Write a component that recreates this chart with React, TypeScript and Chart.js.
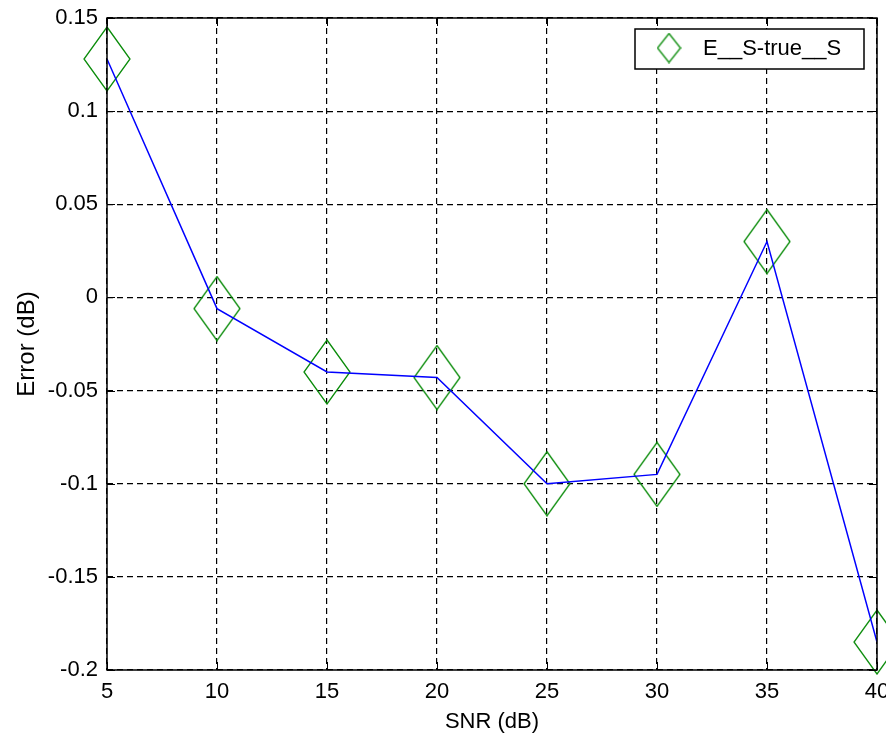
import React, { useEffect, useRef } from "react";
import { Chart, registerables } from "chart.js";

Chart.register(...registerables);

const snr: number[] = [5, 10, 15, 20, 25, 30, 35, 40];
const errorDb: number[] = [0.128, -0.006, -0.04, -0.043, -0.1, -0.095, 0.03, -0.185];
const xTicks: number[] = [5, 10, 15, 20, 25, 30, 35, 40];
const yTicks: number[] = [-0.2, -0.15, -0.1, -0.05, 0, 0.05, 0.1, 0.15];
const legendLabel = "E__S-true__S";
const xTitle = "SNR (dB)";
const yTitle = "Error (dB)";

const FONT = "'Liberation Sans', Arial, sans-serif";
const GREEN = "#0a8c0a";

function makeDiamond(w: number, h: number, lw: number): HTMLCanvasElement {
  const c = document.createElement("canvas");
  c.width = w;
  c.height = h;
  const ctx = c.getContext("2d")!;
  ctx.strokeStyle = GREEN;
  ctx.lineWidth = lw;
  ctx.beginPath();
  ctx.moveTo(w / 2, 1);
  ctx.lineTo(w - 1, h / 2);
  ctx.lineTo(w / 2, h - 1);
  ctx.lineTo(1, h / 2);
  ctx.closePath();
  ctx.stroke();
  return c;
}

export default function App() {
  const ref = useRef<HTMLCanvasElement | null>(null);

  useEffect(() => {
    if (!ref.current) return;
    const bigDiamond = makeDiamond(48, 66, 1.3);
    const smallDiamond = makeDiamond(25, 31, 1.3);

    const framePlugin = {
      id: "frame",
      afterDraw(chart: any) {
        const { ctx, chartArea: a, scales } = chart;
        ctx.save();
        ctx.strokeStyle = "#000";
        ctx.lineWidth = 1;
        ctx.setLineDash([]);
        const tl = 8;
        ctx.beginPath();
        for (const v of xTicks) {
          const px = Math.round(scales.x.getPixelForValue(v)) + 0.5;
          ctx.moveTo(px, a.bottom);
          ctx.lineTo(px, a.bottom - tl);
          ctx.moveTo(px, a.top);
          ctx.lineTo(px, a.top + tl);
        }
        for (const v of yTicks) {
          const py = Math.round(scales.y.getPixelForValue(v)) + 0.5;
          ctx.moveTo(a.left, py);
          ctx.lineTo(a.left + tl, py);
          ctx.moveTo(a.right, py);
          ctx.lineTo(a.right - tl, py);
        }
        ctx.stroke();
        ctx.lineWidth = 1.5;
        ctx.strokeRect(a.left, a.top, a.right - a.left, a.bottom - a.top);

        // legend (canvas coords are shifted by +3 relative to the page)
        const lx = 635, ly = 32, lw = 229, lh = 40;
        ctx.fillStyle = "#fff";
        ctx.fillRect(lx, ly, lw, lh);
        ctx.lineWidth = 1.5;
        ctx.strokeStyle = "#000";
        ctx.strokeRect(lx, ly, lw, lh);
        ctx.drawImage(smallDiamond, 669 - smallDiamond.width / 2, 51 - smallDiamond.height / 2);
        ctx.fillStyle = "#000";
        ctx.font = `22px ${FONT}`;
        ctx.textBaseline = "middle";
        ctx.textAlign = "left";
        ctx.fillText(legendLabel, 703, 52);
        ctx.restore();
      },
    };

    const chart = new Chart(ref.current, {
      type: "line",
      data: {
        datasets: [
          {
            label: "line",
            data: snr.map((x, i) => ({ x, y: errorDb[i] })),
            borderColor: "#0000ff",
            borderWidth: 1.5,
            pointRadius: 0,
            fill: false,
            tension: 0,
          },
          {
            label: legendLabel,
            data: snr.map((x, i) => ({ x, y: errorDb[i] })),
            showLine: false,
            pointStyle: bigDiamond as any,
            pointRadius: 20,
            borderColor: GREEN,
            backgroundColor: "transparent",
            clip: false as any,
          },
        ],
      },
      options: {
        animation: false,
        responsive: true,
        maintainAspectRatio: false,
        events: [],
        layout: { padding: { top: 14, right: 9, left: 0, bottom: 0 } },
        plugins: {
          legend: { display: false },
          tooltip: { enabled: false },
        },
        scales: {
          x: {
            type: "linear",
            min: 5,
            max: 40,
            afterBuildTicks: (s: any) => {
              s.ticks = xTicks.map((v) => ({ value: v }));
            },
            afterFit: (s: any) => {
              s.height = 69;
              s.paddingLeft = 0;
              s.paddingRight = 0;
            },
            ticks: {
              color: "#000",
              font: { family: FONT, size: 22 },
              padding: 9,
              maxRotation: 0,
              autoSkip: false,
              callback: (v: any) => String(v),
            },
            grid: { color: "#000", lineWidth: 1.2, drawTicks: false },
            border: { display: false, dash: [6, 4] },
            title: {
              display: true,
              text: xTitle,
              color: "#000",
              font: { family: FONT, size: 22 },
              padding: { top: 0, bottom: 4 },
            },
          },
          y: {
            type: "linear",
            min: -0.2,
            max: 0.15,
            afterBuildTicks: (s: any) => {
              s.ticks = yTicks.map((v) => ({ value: v }));
            },
            afterFit: (s: any) => {
              s.width = 107;
              s.paddingTop = 0;
              s.paddingBottom = 0;
            },
            ticks: {
              color: "#000",
              font: { family: FONT, size: 22 },
              padding: 9,
              autoSkip: false,
              callback: (v: any) => String(Number(Number(v).toFixed(2))),
            },
            grid: { color: "#000", lineWidth: 1.2, drawTicks: false },
            border: { display: false, dash: [6, 4] },
            title: {
              display: true,
              text: yTitle,
              color: "#000",
              font: { family: FONT, size: 24 },
              padding: { top: 13, bottom: 0 },
            },
          },
        },
      },
      plugins: [framePlugin],
    });
    return () => chart.destroy();
  }, []);

  return (
    <div style={{ position: "fixed", left: 0, top: 0, width: 886, height: 739, overflow: "hidden", background: "#fff" }}>
      <div style={{ position: "relative", top: -3, width: 898, height: 742 }}>
        <canvas ref={ref} />
      </div>
    </div>
  );
}
